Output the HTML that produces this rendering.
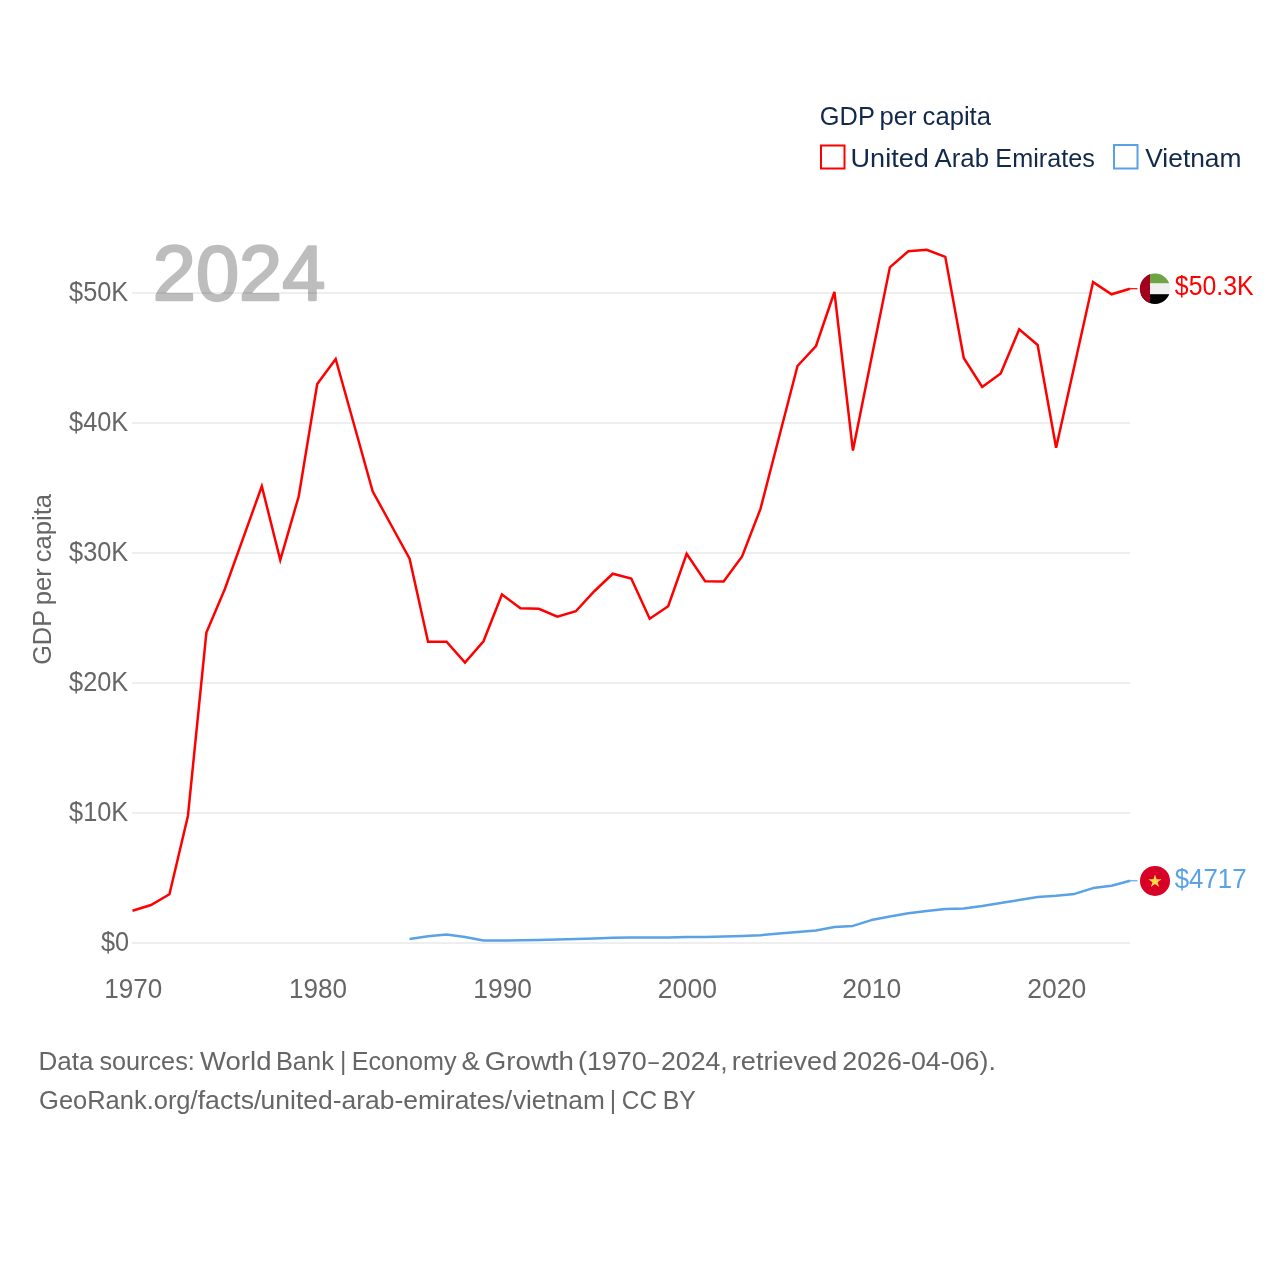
<!DOCTYPE html>
<html><head><meta charset="utf-8"><style>
html,body{margin:0;padding:0;background:#fff;width:1280px;height:1280px;overflow:hidden}
svg{display:block;will-change:transform}
text{font-family:"Liberation Sans", sans-serif}
</style></head><body>
<svg width="1280" height="1280" viewBox="0 0 1280 1280">
<rect width="1280" height="1280" fill="#fff"/>
<rect x="132" y="942" width="998" height="2" fill="#eeeeee"/><rect x="132" y="812" width="998" height="2" fill="#eeeeee"/><rect x="132" y="682" width="998" height="2" fill="#eeeeee"/><rect x="132" y="552" width="998" height="2" fill="#eeeeee"/><rect x="132" y="422" width="998" height="2" fill="#eeeeee"/><rect x="132" y="292" width="998" height="2" fill="#eeeeee"/>
<g opacity="0.255"><text x="152.8" y="299.5" font-size="77" font-weight="normal" fill="#000" stroke="#000" stroke-width="2.4" stroke-linejoin="round" textLength="172.5" lengthAdjust="spacingAndGlyphs">2024</text></g>
<text x="100.98" y="950.84" font-size="27" fill="#666666" textLength="28.11" lengthAdjust="spacingAndGlyphs">$0</text>
<text x="69.03" y="820.84" font-size="27" fill="#666666" textLength="59.26" lengthAdjust="spacingAndGlyphs">$10K</text>
<text x="69.03" y="690.84" font-size="27" fill="#666666" textLength="59.26" lengthAdjust="spacingAndGlyphs">$20K</text>
<text x="69.03" y="560.84" font-size="27" fill="#666666" textLength="59.26" lengthAdjust="spacingAndGlyphs">$30K</text>
<text x="69.03" y="430.84" font-size="27" fill="#666666" textLength="59.26" lengthAdjust="spacingAndGlyphs">$40K</text>
<text x="69.03" y="300.84" font-size="27" fill="#666666" textLength="59.26" lengthAdjust="spacingAndGlyphs">$50K</text>

<text x="104.26" y="997.87" font-size="27" fill="#666666" textLength="58.00" lengthAdjust="spacingAndGlyphs">1970</text>
<text x="289.01" y="997.87" font-size="27" fill="#666666" textLength="58.00" lengthAdjust="spacingAndGlyphs">1980</text>
<text x="473.29" y="997.87" font-size="27" fill="#666666" textLength="58.74" lengthAdjust="spacingAndGlyphs">1990</text>
<text x="657.86" y="997.87" font-size="27" fill="#666666" textLength="59.07" lengthAdjust="spacingAndGlyphs">2000</text>
<text x="842.37" y="997.87" font-size="27" fill="#666666" textLength="58.97" lengthAdjust="spacingAndGlyphs">2010</text>
<text x="1027.37" y="997.87" font-size="27" fill="#666666" textLength="58.97" lengthAdjust="spacingAndGlyphs">2020</text>

<g transform="translate(51.3,663.6) rotate(-90)"><text x="-1.27" y="0" font-size="26.5" fill="#666666" textLength="54.92" lengthAdjust="spacingAndGlyphs">GDP</text>
<text x="58.34" y="0" font-size="26.5" fill="#666666" textLength="37.01" lengthAdjust="spacingAndGlyphs">per</text>
<text x="101.33" y="0" font-size="26.5" fill="#666666" textLength="68.27" lengthAdjust="spacingAndGlyphs">capita</text></g>
<polyline points="132.50,910.75 150.97,905.00 169.44,894.25 187.92,816.00 206.39,632.50 224.86,589.00 243.33,537.60 261.81,486.25 280.28,560.00 298.75,496.25 317.22,384.00 335.69,359.00 354.17,425.00 372.64,491.25 391.11,525.00 409.58,558.75 428.06,641.75 446.53,641.75 465.00,662.50 483.47,641.25 501.94,594.50 520.42,608.25 538.89,608.75 557.36,616.75 575.83,611.25 594.31,591.25 612.78,573.75 631.25,578.50 649.72,618.75 668.19,606.25 686.67,553.75 705.14,581.30 723.61,581.40 742.08,556.40 760.56,508.60 779.03,437.30 797.50,366.00 815.97,346.00 834.44,292.00 852.92,450.60 871.39,358.60 889.86,267.30 908.33,251.20 926.81,249.80 945.28,256.90 963.75,358.00 982.22,387.00 1000.69,373.40 1019.17,329.40 1037.64,345.00 1056.11,447.70 1074.58,364.90 1093.06,282.10 1111.53,294.30 1130.00,288.70" fill="none" stroke="#ff0000" stroke-width="2.5" stroke-linejoin="miter" stroke-miterlimit="4"/>
<polyline points="409.58,939.00 428.06,936.20 446.53,934.40 465.00,936.90 483.47,940.60 501.94,940.60 520.42,940.25 538.89,940.00 557.36,939.60 575.83,939.10 594.31,938.40 612.78,937.80 631.25,937.50 649.72,937.50 668.19,937.40 686.67,937.10 705.14,936.90 723.61,936.60 742.08,936.00 760.56,935.20 779.03,933.50 797.50,932.00 815.97,930.40 834.44,927.10 852.92,925.90 871.39,920.10 889.86,916.40 908.33,913.30 926.81,910.90 945.28,908.90 963.75,908.40 982.22,906.00 1000.69,903.10 1019.17,900.00 1037.64,897.10 1056.11,895.80 1074.58,893.90 1093.06,888.10 1111.53,885.70 1130.00,880.80" fill="none" stroke="#5aa2e6" stroke-width="2.5" stroke-linejoin="round"/>
<line x1="1130" y1="288.7" x2="1137.5" y2="288.7" stroke="#ff0000" stroke-width="1.2"/>
<line x1="1130" y1="880.8" x2="1137.5" y2="880.8" stroke="#5aa2e6" stroke-width="1.2"/>
<!-- UAE flag -->
<defs><clipPath id="c1"><circle cx="1155" cy="288.7" r="15.2"/></clipPath></defs>
<g clip-path="url(#c1)">
<rect x="1139" y="272" width="32" height="33" fill="#f0f0f0"/>
<rect x="1139" y="272" width="32" height="11.2" fill="#6da544"/>
<rect x="1139" y="294.2" width="32" height="11" fill="#000"/>
<rect x="1139" y="272" width="11" height="33" fill="#a2001d"/>
</g>
<!-- VN flag -->
<circle cx="1155" cy="880.9" r="15" fill="#d80027"/>
<polygon points="1155,874.5 1156.6,879.3 1161.6,879.3 1157.6,882.2 1159.1,887 1155,884.1 1150.9,887 1152.4,882.2 1148.4,879.3 1153.4,879.3" fill="#ffda44"/>
<text x="1174.83" y="294.75" font-size="27" fill="#ff0000" textLength="78.75" lengthAdjust="spacingAndGlyphs">$50.3K</text>
<text x="1174.72" y="887.75" font-size="27" fill="#5aa2e6" textLength="71.88" lengthAdjust="spacingAndGlyphs">$4717</text>
<!-- legend -->
<text x="819.82" y="124.7" font-size="26.5" fill="#13294b" textLength="55.02" lengthAdjust="spacingAndGlyphs">GDP</text>
<text x="879.55" y="124.7" font-size="26.5" fill="#13294b" textLength="37.08" lengthAdjust="spacingAndGlyphs">per</text>
<text x="922.61" y="124.7" font-size="26.5" fill="#13294b" textLength="68.39" lengthAdjust="spacingAndGlyphs">capita</text>
<rect x="821" y="145.5" width="23.5" height="23" fill="none" stroke="#ff0000" stroke-width="2"/>
<text x="850.51" y="166.6" font-size="26.5" fill="#13294b" textLength="78.34" lengthAdjust="spacingAndGlyphs">United</text>
<text x="934.55" y="166.6" font-size="26.5" fill="#13294b" textLength="54.53" lengthAdjust="spacingAndGlyphs">Arab</text>
<text x="995.33" y="166.6" font-size="26.5" fill="#13294b" textLength="99.58" lengthAdjust="spacingAndGlyphs">Emirates</text>
<rect x="1114" y="145" width="23.5" height="23.5" fill="none" stroke="#5aa2e6" stroke-width="2"/>
<text x="1145.28" y="166.6" font-size="26.5" fill="#13294b" textLength="96.24" lengthAdjust="spacingAndGlyphs">Vietnam</text>
<!-- footer -->
<text x="38.47" y="1069.9" font-size="26.5" fill="#666666" textLength="54.93" lengthAdjust="spacingAndGlyphs">Data</text>
<text x="99.40" y="1069.9" font-size="26.5" fill="#666666" textLength="95.41" lengthAdjust="spacingAndGlyphs">sources:</text>
<text x="200.08" y="1069.9" font-size="26.5" fill="#666666" textLength="71.38" lengthAdjust="spacingAndGlyphs">World</text>
<text x="275.91" y="1069.9" font-size="26.5" fill="#666666" textLength="57.95" lengthAdjust="spacingAndGlyphs">Bank</text>
<text x="339.90" y="1069.9" font-size="26.5" fill="#666666" textLength="6.41" lengthAdjust="spacingAndGlyphs">|</text>
<text x="351.64" y="1069.9" font-size="26.5" fill="#666666" textLength="104.91" lengthAdjust="spacingAndGlyphs">Economy</text>
<text x="461.63" y="1069.9" font-size="26.5" fill="#666666" textLength="18.40" lengthAdjust="spacingAndGlyphs">&amp;</text>
<text x="484.81" y="1069.9" font-size="26.5" fill="#666666" textLength="89.19" lengthAdjust="spacingAndGlyphs">Growth</text>
<text x="577.93" y="1069.9" font-size="26.5" fill="#666666" textLength="68.82" lengthAdjust="spacingAndGlyphs">(1970</text>
<text x="648.40" y="1069.9" font-size="26.5" fill="#666666" textLength="10.31" lengthAdjust="spacingAndGlyphs">–</text>
<text x="660.96" y="1069.9" font-size="26.5" fill="#666666" textLength="66.84" lengthAdjust="spacingAndGlyphs">2024,</text>
<text x="731.80" y="1069.9" font-size="26.5" fill="#666666" textLength="105.45" lengthAdjust="spacingAndGlyphs">retrieved</text>
<text x="842.25" y="1069.9" font-size="26.5" fill="#666666" textLength="153.70" lengthAdjust="spacingAndGlyphs">2026-04-06).</text>
<text x="39.12" y="1108.9" font-size="26.5" fill="#666666" textLength="158.48" lengthAdjust="spacingAndGlyphs">GeoRank.org/</text>
<text x="197.72" y="1108.9" font-size="26.5" fill="#666666" textLength="63.68" lengthAdjust="spacingAndGlyphs">facts/</text>
<text x="260.58" y="1108.9" font-size="26.5" fill="#666666" textLength="251.42" lengthAdjust="spacingAndGlyphs">united-arab-emirates/</text>
<text x="512.91" y="1108.9" font-size="26.5" fill="#666666" textLength="91.92" lengthAdjust="spacingAndGlyphs">vietnam</text>
<text x="609.80" y="1108.9" font-size="26.5" fill="#666666" textLength="6.41" lengthAdjust="spacingAndGlyphs">|</text>
<text x="621.76" y="1108.9" font-size="26.5" fill="#666666" textLength="35.27" lengthAdjust="spacingAndGlyphs">CC</text>
<text x="662.67" y="1108.9" font-size="26.5" fill="#666666" textLength="33.08" lengthAdjust="spacingAndGlyphs">BY</text>
</svg>
</body></html>
